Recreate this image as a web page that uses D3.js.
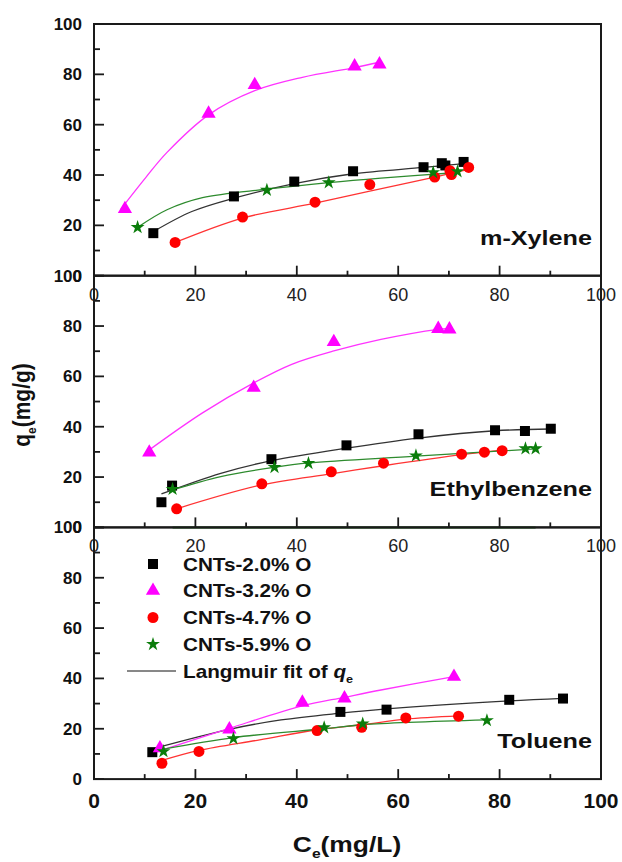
<!DOCTYPE html>
<html>
<head>
<meta charset="utf-8">
<script src="https://cdn.jsdelivr.net/npm/d3@7"></script>
<style>
  html, body { margin: 0; padding: 0; background: #fff; }
  svg { display: block; font-family: "Liberation Sans", Arial, sans-serif; }
</style>
</head>
<body>
<svg id="chart" width="622" height="862"></svg>
<script>
// ---- Data: equilibrium adsorption (Ce in mg/L, qe in mg/g) ----
const panelNames = ["m-Xylene", "Ethylbenzene", "Toluene"];
const seriesLabels = ["CNTs-2.0% O", "CNTs-3.2% O", "CNTs-4.7% O", "CNTs-5.9% O"];
const xTicks = [0, 20, 40, 60, 80, 100];
const yTicks = [0, 20, 40, 60, 80, 100];

// m-Xylene
const xylSq   = [[11.7,16.9],[27.6,31.5],[39.5,37.4],[51.1,41.5],[65.0,43.1],[68.6,44.7],[69.3,43.8],[72.9,45.2]];
const xylTri  = [[6.1,26.5],[22.6,64.4],[31.7,75.8],[51.4,83.2],[56.3,84.0]];
const xylCir  = [[16.0,13.2],[29.3,23.3],[43.6,29.2],[54.4,36.2],[67.2,39.2],[70.2,41.7],[70.5,40.2],[73.9,43.0]];
const xylStar = [[8.6,19.2],[34.1,34.0],[46.3,37.0],[66.9,41.0],[71.7,41.4]];
const xylFitSq   = [[11.7,17.5],[19.3,25.5],[27.6,30.8],[39.5,36.6],[51.1,40.5],[65.0,43.0],[72.9,44.5]];
const xylFitTri  = [[5.3,26.5],[10.2,39.0],[14.4,49.0],[22.6,63.9],[31.7,73.5],[41.1,78.8],[51.4,82.7],[56.3,84.8]];
const xylFitCir  = [[16.0,13.2],[29.3,22.9],[43.6,28.8],[54.4,33.6],[67.2,39.2],[73.9,42.2]];
const xylFitStar = [[8.6,19.2],[14.4,26.2],[21.4,31.0],[34.1,34.4],[46.3,37.0],[56.6,38.8],[71.7,41.0]];

// Ethylbenzene
const ethSq   = [[13.3,10.0],[15.4,16.6],[35.0,27.1],[49.8,32.6],[64.0,37.0],[79.1,38.6],[85.0,38.3],[90.1,39.2]];
const ethTri  = [[10.9,29.8],[31.5,55.5],[47.3,73.7],[67.9,78.9],[70.1,78.7]];
const ethCir  = [[16.3,7.4],[33.1,17.3],[46.8,22.1],[57.1,25.5],[72.5,29.1],[77.0,29.9],[80.5,30.5]];
const ethStar = [[15.5,15.2],[35.6,23.9],[42.3,25.5],[63.5,28.5],[85.1,31.3],[87.1,31.3]];
const ethFitSq   = [[13.3,13.3],[25.0,21.5],[35.0,26.5],[49.8,31.5],[64.0,35.5],[79.1,38.4],[90.1,39.1]];
const ethFitTri  = [[10.5,30.2],[21.4,45.5],[31.5,57.4],[39.0,64.8],[47.3,70.1],[56.6,74.7],[67.9,78.7],[69.6,79.0]];
const ethFitCir  = [[16.3,7.4],[33.1,16.9],[46.8,21.3],[57.1,24.5],[72.5,28.9],[80.5,30.7]];
const ethFitStar = [[15.5,14.9],[25.0,20.2],[35.6,23.9],[42.3,25.6],[63.5,28.3],[87.1,31.2]];
const ethBase    = [[15.5,0],[87.1,0]];

// Toluene
const tolSq   = [[11.5,10.7],[48.6,26.7],[57.7,27.6],[81.9,31.5],[92.5,32.0]];
const tolTri  = [[13.0,12.3],[26.7,19.8],[41.1,30.4],[49.4,32.1],[71.0,40.7]];
const tolCir  = [[13.4,6.3],[20.7,11.0],[44.0,19.3],[52.8,20.6],[61.5,24.3],[71.9,25.0]];
const tolStar = [[13.7,11.0],[27.5,16.1],[45.4,20.5],[53.0,22.0],[77.5,23.3]];
const tolFitSq   = [[12.0,12.3],[26.7,19.8],[36.9,23.5],[48.6,26.2],[57.7,27.9],[81.9,31.1],[92.5,32.1]];
const tolFitTri  = [[12.0,10.6],[26.7,20.2],[41.1,29.1],[49.4,32.5],[56.6,35.4],[71.0,40.7]];
const tolFitCir  = [[13.4,7.4],[20.7,11.4],[32.7,15.6],[44.0,19.6],[52.8,21.6],[61.5,23.8],[71.9,25.1]];
const tolFitStar = [[13.7,11.9],[27.5,16.5],[45.4,20.0],[53.0,21.6],[77.5,23.5]];

// ---- Styling ----
const markerColors = ["#000000", "#ff00ff", "#ff0000", "#0b7d0b"];
const lineColors   = ["#333333", "#ff33ff", "#ff3333", "#2e8b2e"];
const symbols = [
  d3.symbol().type(d3.symbolSquare).size(100),
  d3.symbol().type(d3.symbolTriangle).size(88),
  d3.symbol().type(d3.symbolCircle).size(95),
  d3.symbol().type(d3.symbolStar).size(60)
];

const panels = [
  { name: panelNames[0], pts: [xylSq, xylTri, xylCir, xylStar], fits: [xylFitSq, xylFitTri, xylFitCir, xylFitStar] },
  { name: panelNames[1], pts: [ethSq, ethTri, ethCir, ethStar], fits: [ethFitSq, ethFitTri, ethFitCir, ethFitStar], base: ethBase },
  { name: panelNames[2], pts: [tolSq, tolTri, tolCir, tolStar], fits: [tolFitSq, tolFitTri, tolFitCir, tolFitStar] }
];

const svg = d3.select("#chart");
const left = 94, right = 601, top0 = 24, panelH = 251.7;
const x = d3.scaleLinear().domain([0, 100]).range([left, right]);
const axisColor = "#1a1a1a";

panels.forEach((p, i) => {
  const top = top0 + i * panelH, bottom = top + panelH;
  const y = d3.scaleLinear().domain([0, 100]).range([bottom, top]);
  const g = svg.append("g").attr("class", "panel");

  // Langmuir fit curves
  const line = d3.line().x(d => x(d[0])).y(d => y(d[1])).curve(d3.curveCatmullRom.alpha(0.5));
  p.fits.forEach((f, k) => {
    g.append("path").attr("d", line(f)).attr("fill", "none")
      .attr("stroke", lineColors[k]).attr("stroke-width", 1.3);
  });

  // measured points
  p.pts.forEach((s, k) => {
    g.selectAll(null).data(s).enter().append("path")
      .attr("d", symbols[k])
      .attr("transform", d => `translate(${x(d[0])},${y(d[1])})`)
      .attr("fill", markerColors[k]);
  });

  // frame
  const frame = svg.append("g");
  frame.append("rect").attr("x", left).attr("y", top).attr("width", right - left).attr("height", panelH)
    .attr("fill", "none").attr("stroke", axisColor).attr("stroke-width", 2);

  if (p.base) {
    const bl = d3.line().x(d => x(d[0])).y(d => y(d[1]));
    frame.append("path").attr("d", bl(p.base)).attr("stroke", "#1f5f1f").attr("stroke-width", 2).attr("fill", "none");
  }

  // inward ticks: major every 20, minor every 10
  const yt = d3.range(0, 101, 10);
  frame.selectAll(null).data(yt).enter().append("line")
    .attr("x1", left).attr("x2", d => left + (d % 20 === 0 ? 10 : 6))
    .attr("y1", d => y(d)).attr("y2", d => y(d))
    .attr("stroke", axisColor).attr("stroke-width", 1.8);
  frame.selectAll(null).data(yt).enter().append("line")
    .attr("y1", bottom).attr("y2", d => bottom - (d % 20 === 0 ? 10 : 5))
    .attr("x1", d => x(d)).attr("x2", d => x(d))
    .attr("stroke", axisColor).attr("stroke-width", 1.8);

  // y tick labels
  frame.selectAll(null).data(yTicks).enter().append("text")
    .attr("x", 82).attr("y", d => y(d) + 6)
    .attr("text-anchor", "end").attr("font-size", 17).attr("font-weight", "bold")
    .attr("fill", "#111").text(d => d);

  // x tick labels
  const last = i === panels.length - 1;
  frame.selectAll(null).data(xTicks).enter().append("text")
    .attr("x", d => x(d)).attr("y", bottom + (last ? 29 : 25))
    .attr("text-anchor", "middle")
    .attr("font-size", last ? 21 : 18)
    .attr("font-weight", last ? "bold" : "normal")
    .attr("fill", last ? "#111" : "#222").text(d => d);

  // panel name
  frame.append("text").attr("text-anchor", "end")
    .attr("transform", `translate(${right - 9},${bottom - 31}) scale(1.2,1)`)
    .attr("font-size", 21).attr("font-weight", "bold").attr("fill", "#111").text(p.name);
});

// legend inside the bottom panel
const leg = svg.append("g");
const legX = 153, legY0 = 564, legStep = 26.75;
seriesLabels.forEach((lab, k) => {
  const cy = legY0 + k * legStep;
  leg.append("path").attr("d", symbols[k]).attr("transform", `translate(${legX},${cy})`).attr("fill", markerColors[k]);
  leg.append("text").attr("transform", `translate(183,${cy + 6.5}) scale(1.15,1)`)
    .attr("font-size", 18).attr("font-weight", "bold").attr("fill", "#111").text(lab);
});
const fitY = legY0 + 4 * legStep;
leg.append("line").attr("x1", 127).attr("x2", 176).attr("y1", fitY).attr("y2", fitY)
  .attr("stroke", "#111").attr("stroke-width", 1);
const ft = leg.append("text").attr("transform", `translate(183,${fitY + 6.5}) scale(1.15,1)`)
  .attr("font-size", 18).attr("font-weight", "bold").attr("fill", "#111");
ft.append("tspan").text("Langmuir fit of ");
ft.append("tspan").attr("font-style", "italic").text("q");
ft.append("tspan").attr("font-size", 11).attr("dy", 5).text("e");

// axis titles
const xt = svg.append("text").attr("text-anchor", "middle")
  .attr("transform", `translate(347,852) scale(1.2,1)`)
  .attr("font-size", 22).attr("font-weight", "bold").attr("fill", "#111");
xt.append("tspan").text("C");
xt.append("tspan").attr("font-size", 13).attr("dy", 6).text("e");
xt.append("tspan").attr("dy", -6).text("(mg/L)");

const ytl = svg.append("text").attr("text-anchor", "middle")
  .attr("transform", `translate(30,405) rotate(-90) scale(1,1.1)`)
  .attr("font-size", 21).attr("font-weight", "bold").attr("fill", "#111");
ytl.append("tspan").text("q");
ytl.append("tspan").attr("font-size", 12).attr("dy", 5).text("e");
ytl.append("tspan").attr("dy", -5).text("(mg/g)");
</script>
</body>
</html>
